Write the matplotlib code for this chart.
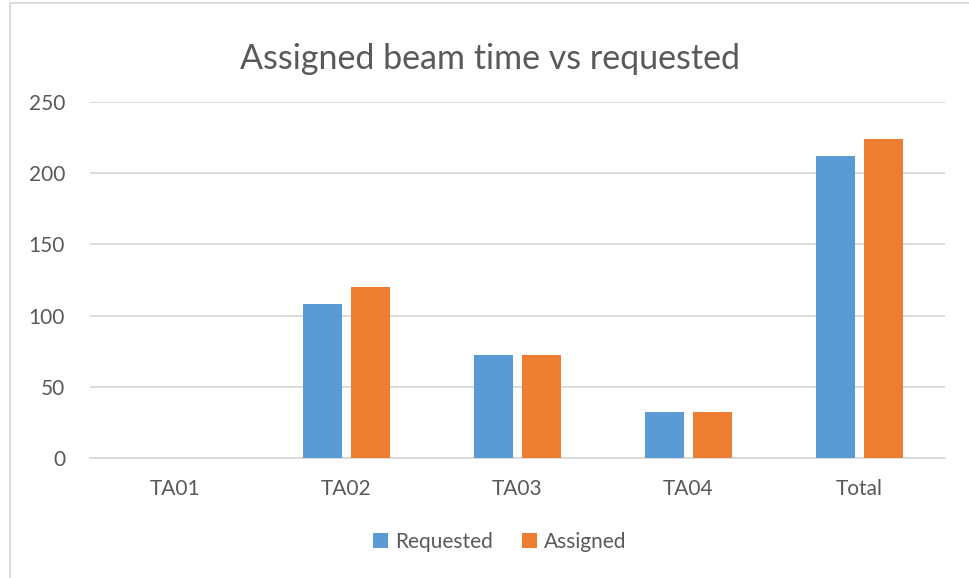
import matplotlib.pyplot as plt
import numpy as np
from matplotlib.patches import Rectangle

categories = ['TA01', 'TA02', 'TA03', 'TA04', 'Total']
requested = [0, 108, 72, 32, 212]
assigned = [0, 120, 72, 32, 224]

blue = '#5B9BD5'
orange = '#ED7D31'
txt = '#595959'

plt.rcParams['font.family'] = ['Lato', 'DejaVu Sans']

fig = plt.figure(figsize=(9.69, 5.78), dpi=100)
ax = fig.add_axes([90/969, 1 - 458/578, 855/969, 356/578])

x = np.arange(len(categories))
w = 0.228
ax.bar(x - 0.143, requested, w, color=blue, label='Requested', zorder=3)
ax.bar(x + 0.143, assigned, w, color=orange, label='Assigned', zorder=3)

ax.set_xlim(-0.5, len(categories) - 0.5)
ax.set_ylim(0, 250)
ax.set_yticks(range(0, 251, 50))
ax.set_xticks(x)
ax.set_xticklabels(categories)
ax.yaxis.grid(True, color='#D9D9D9', linewidth=1.3, zorder=0)
for s in ['top', 'right', 'left']:
    ax.spines[s].set_visible(False)
ax.spines['bottom'].set_color('#D9D9D9')
ax.spines['bottom'].set_linewidth(1.3)
ax.tick_params(axis='both', length=0, labelsize=15, colors=txt)
ax.tick_params(axis='x', pad=15)
ax.tick_params(axis='y', pad=18)

fig.text(490/969, 1 - 59/578, 'Assigned beam time vs requested', ha='center', va='center',
         fontsize=24.5, color=txt)

fig.legend(loc='center', bbox_to_anchor=(500/969, 1 - 542/578), ncol=2, frameon=False,
           fontsize=15, labelcolor=txt, handlelength=0.7, handleheight=0.7,
           handletextpad=0.35, columnspacing=1.4)

# chart border (top and left edges visible)
fig.patches.append(Rectangle((10/969, -0.01), 1.0, 1 - 3/578 + 0.01, transform=fig.transFigure,
                             fill=False, edgecolor='#D9D9D9', linewidth=1.3))

fig.savefig('out.png', dpi=100)
